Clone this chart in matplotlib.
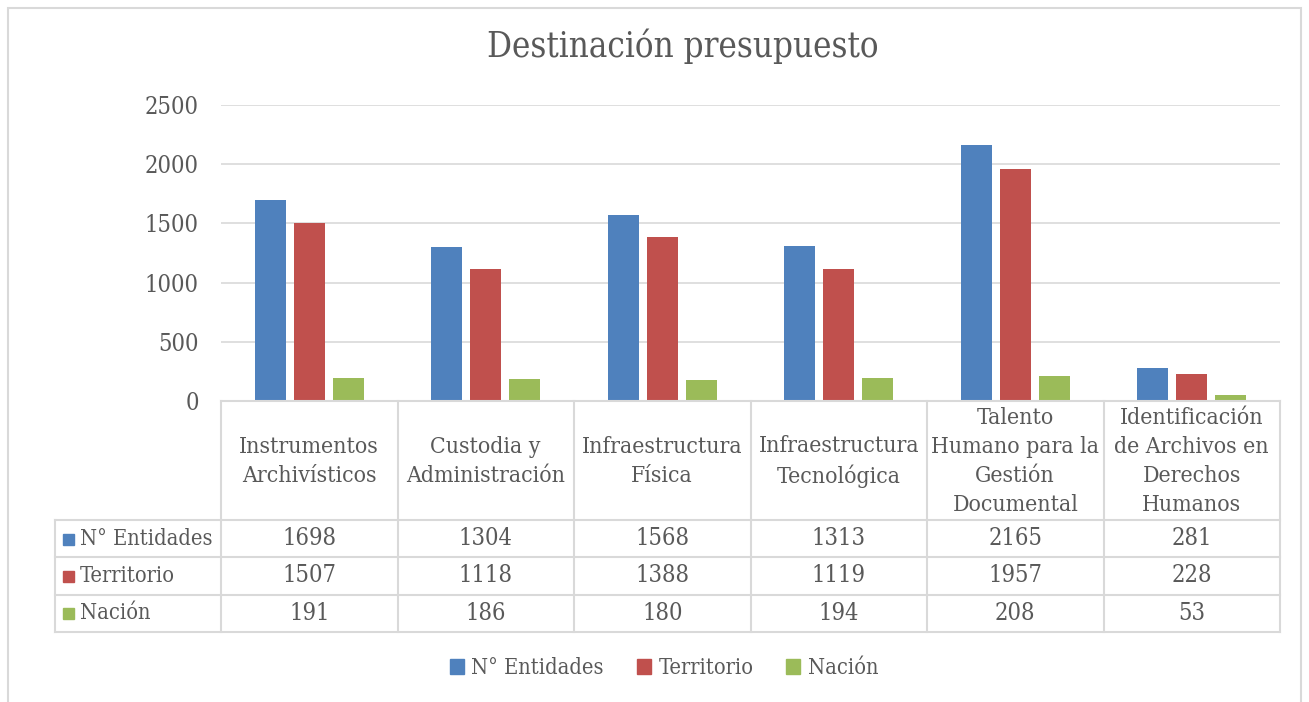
import matplotlib.pyplot as plt
import numpy as np
from matplotlib.patches import Rectangle, Patch

categories = ['Instrumentos\nArchivísticos', 'Custodia y\nAdministración', 'Infraestructura\nFísica',
              'Infraestructura\nTecnológica', 'Talento\nHumano para la\nGestión\nDocumental',
              'Identificación\nde Archivos en\nDerechos\nHumanos']
series = ['N° Entidades', 'Territorio', 'Nación']
entidades = [1698, 1304, 1568, 1313, 2165, 281]
territorio = [1507, 1118, 1388, 1119, 1957, 228]
nacion = [191, 186, 180, 194, 208, 53]
colors = ['#4F81BD', '#C0504D', '#9BBB59']
yticks = [0, 500, 1000, 1500, 2000, 2500]

txt = '#595959'
grid_c = '#D9D9D9'
plt.rcParams['font.family'] = ['DejaVu Serif', 'DejaVu Sans']
plt.rcParams['font.stretch'] = 'condensed'

W, H = 1309, 702
fig = plt.figure(figsize=(W / 100, H / 100), dpi=100)

# outer chart border
fig.add_artist(Rectangle((8 / W, -0.02), (1301 - 8) / W, 1.0 - 8 / H + 0.02, transform=fig.transFigure,
                         fill=False, edgecolor=grid_c, lw=1.5))

# plot area
left, right, top, zero, tbot = 221, 1280, 105, 401, 632
ax = fig.add_axes([left / W, 1 - zero / H, (right - left) / W, (zero - top) / H])
x = np.arange(len(categories))
width = 0.176
offs = [-0.222, 0, 0.222]
for vals, off, c, s in zip([entidades, territorio, nacion], offs, colors, series):
    ax.bar(x + off, vals, width, color=c, label=s, zorder=3)
ax.set_xlim(-0.5, len(categories) - 0.5)
ax.set_ylim(0, 2500)
ax.set_yticks(yticks)
ax.set_xticks([])
ax.grid(axis='y', color=grid_c, lw=1.2, zorder=0)
for sp in ax.spines.values():
    sp.set_visible(False)
ax.tick_params(axis='y', length=0, pad=16, labelsize=17, labelcolor=txt)

fig.text(683 / W, 1 - 46 / H, 'Destinación presupuesto', ha='center', va='center', fontsize=25, color=txt)

# data table under the axis
tax = fig.add_axes([left / W, 1 - tbot / H, (right - left) / W, (tbot - zero) / H])
tax.set_xlim(-0.5, len(categories) - 0.5)
tax.set_ylim(tbot - zero, 0)
tax.axis('off')
px = len(categories) / (right - left)  # category units per pixel
lab_left = -0.5 - (left - 55) * px
head_h = 119
row_h = (tbot - zero - head_h) / 3
lw = 1.5
tax.plot([-0.5, 5.5], [0, 0], color=grid_c, lw=lw, clip_on=False)
for i in range(len(categories) + 1):
    tax.plot([i - 0.5, i - 0.5], [0, tbot - zero], color=grid_c, lw=lw, clip_on=False)
for r in range(4):
    yy = head_h + r * row_h
    tax.plot([lab_left, 5.5], [yy, yy], color=grid_c, lw=lw, clip_on=False)
tax.plot([lab_left, lab_left], [head_h, tbot - zero], color=grid_c, lw=lw, clip_on=False)

for i, cat in enumerate(categories):
    tax.text(i, head_h / 2 + 1, cat, ha='center', va='center', fontsize=16.5, color=txt, linespacing=1.42)
for r, (vals, c, s) in enumerate(zip([entidades, territorio, nacion], colors, series)):
    yc = head_h + (r + 0.5) * row_h
    tax.add_patch(Rectangle((lab_left + 8 * px, yc - 5), 11 * px, 11, color=c, clip_on=False))
    tax.text(lab_left + 25 * px, yc, s, ha='left', va='center', fontsize=15.7, color=txt)
    for i, v in enumerate(vals):
        tax.text(i, yc, str(v), ha='center', va='center', fontsize=17, color=txt)

handles = [Patch(color=c, label=s) for c, s in zip(colors, series)]
fig.legend(handles=handles, loc='center', bbox_to_anchor=(664 / W, 1 - 668 / H), ncol=3, frameon=False,
           fontsize=15.7, labelcolor=txt, handlelength=0.65, handleheight=0.65, handletextpad=0.35,
           columnspacing=1.5)

fig.savefig('out.png', dpi=100)
